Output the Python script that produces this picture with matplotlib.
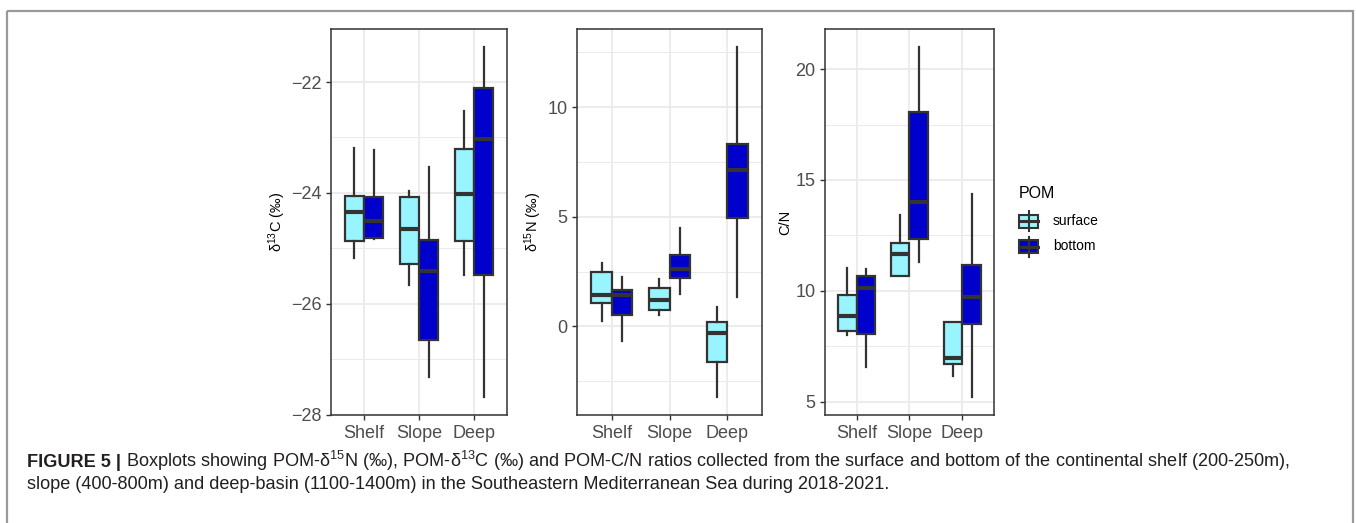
import numpy as np
import matplotlib
matplotlib.use("Agg")
import matplotlib.pyplot as plt
from matplotlib.patches import Rectangle

plt.rcParams['font.family'] = ['Liberation Sans', 'DejaVu Sans']
plt.rcParams['mathtext.fontset'] = 'custom'
plt.rcParams['mathtext.rm'] = 'Liberation Sans'
plt.rcParams['mathtext.it'] = 'Liberation Sans:italic'
plt.rcParams['mathtext.bf'] = 'Liberation Sans:bold'

# five-number summaries per site: [whisker low, Q1, median, Q3, whisker high]
sites = ['Shelf', 'Slope', 'Deep']
series = ['surface', 'bottom']

c13_surface = [[-25.17, -24.87, -24.35, -24.05, -23.19],
               [-25.66, -25.28, -24.65, -24.08, -23.96],
               [-25.49, -24.87, -24.02, -23.20, -22.53]]
c13_bottom = [[-24.84, -24.82, -24.51, -24.07, -23.22],
              [-27.33, -26.65, -25.41, -24.85, -23.53],
              [-27.69, -25.49, -23.03, -22.11, -21.36]]

n15_surface = [[0.24, 1.05, 1.44, 2.47, 2.89],
               [0.50, 0.73, 1.20, 1.73, 2.18],
               [-3.24, -1.61, -0.32, 0.18, 0.89]]
n15_bottom = [[-0.65, 0.50, 1.42, 1.68, 2.27],
              [1.47, 2.20, 2.62, 3.27, 4.47],
              [1.36, 4.92, 7.15, 8.33, 12.76]]

cn_surface = [[8.00, 8.21, 8.87, 9.79, 11.02],
              [10.69, 10.69, 11.67, 12.15, 13.44],
              [6.18, 6.72, 6.98, 8.58, 8.58]]
cn_bottom = [[6.56, 8.06, 10.12, 10.65, 10.99],
             [11.29, 12.34, 14.01, 18.05, 21.02],
             [5.19, 8.49, 9.73, 11.17, 14.35]]

c13_ticks = [-28, -26, -24, -22]
n15_ticks = [0, 5, 10]
cn_ticks = [5, 10, 15, 20]

colors = {'surface': '#98F5FF', 'bottom': '#0000CD'}
edge = '#333333'
txt = '#4d4d4d'

fig = plt.figure(figsize=(13.56, 5.23), dpi=100)


def stats(rows):
    return [dict(whislo=r[0], q1=r[1], med=r[2], q3=r[3], whishi=r[4], fliers=[]) for r in rows]


def panel(rect, surf, bott, ticks, ylabel, labelpad):
    ax = fig.add_axes(rect)
    pos = np.arange(1, len(sites) + 1)
    for rows, name, off in [(surf, 'surface', -0.175), (bott, 'bottom', 0.175)]:
        ax.bxp(stats(rows), positions=pos + off, widths=0.35, patch_artist=True,
               showcaps=False,
               boxprops=dict(facecolor=colors[name], edgecolor=edge, linewidth=1.6),
               whiskerprops=dict(color=edge, linewidth=1.6),
               medianprops=dict(color=edge, linewidth=3.0, solid_capstyle='butt'),
               manage_ticks=False, zorder=3)
    allv = np.array(surf + bott)
    lo, hi = allv.min(), allv.max()
    pad = 0.05 * (hi - lo)
    ax.set_ylim(lo - pad, hi + pad)
    ax.set_xlim(0.4, 3.6)
    ax.set_xticks(pos)
    ax.set_xticklabels(sites)
    ax.set_yticks(ticks)
    step = ticks[1] - ticks[0]
    minors = [t + step / 2 for t in [ticks[0] - step] + ticks]
    minors = [m for m in minors if lo - pad < m < hi + pad]
    ax.set_yticks(minors, minor=True)
    ax.tick_params(axis='both', which='major', colors=edge, labelcolor=txt,
                   labelsize=13, length=3.5, width=1)
    ax.tick_params(axis='y', which='minor', length=0)
    ax.grid(True, which='major', color='#ebebeb', linewidth=1.3, zorder=0)
    ax.grid(True, which='minor', axis='y', color='#ebebeb', linewidth=0.7, zorder=0)
    ax.set_axisbelow(True)
    for s in ax.spines.values():
        s.set_color(edge)
        s.set_linewidth(1.1)
    ax.set_ylabel(ylabel, fontsize=10.5, color='black', labelpad=labelpad)
    return ax


top = 1 - 29 / 523
bot = 1 - 415 / 523
H = top - bot
panel([331 / 1356, bot, 176 / 1356, H], c13_surface, c13_bottom, c13_ticks,
      r'$\mathrm{\delta}^{13}$C (‰)', 2)
panel([577 / 1356, bot, 185 / 1356, H], n15_surface, n15_bottom, n15_ticks,
      r'$\mathrm{\delta}^{15}$N (‰)', 2)
panel([825 / 1356, bot, 169 / 1356, H], cn_surface, cn_bottom, cn_ticks,
      'C/N', 2)

# legend drawn in its own small axes
lg = fig.add_axes([0, 0, 1, 1], facecolor='none')
lg.set_xlim(0, 1356)
lg.set_ylim(523, 0)
lg.axis('off')
lg.text(1019, 193, 'POM', fontsize=11.5, va='center', ha='left', color='black')
for name, yc in zip(series, [221, 246.5]):
    lg.plot([1028.5, 1028.5], [yc - 10, yc + 10], color=edge, lw=1.5)
    lg.add_patch(Rectangle((1019, yc - 6.5), 19, 13, facecolor=colors[name],
                           edgecolor=edge, lw=1.5))
    lg.plot([1019, 1038], [yc, yc], color=edge, lw=2.2)
    lg.text(1053, yc, name, fontsize=10, va='center', ha='left', color='black')

# outer frame
lg.add_patch(Rectangle((7, 11), 1345.5, 600, facecolor='none', edgecolor='#999999', lw=1.6))

# caption
cap_fs = 13.1
t1 = lg.text(27, 467, 'FIGURE 5 |', fontsize=cap_fs, fontweight='bold',
             color='#231f20', va='baseline', ha='left')
fig.canvas.draw()
bb = t1.get_window_extent()
lg.text(bb.x1 + 5, 467,
        'Boxplots showing POM-$\\mathrm{\\delta}^{15}$N (‰), POM-$\\mathrm{\\delta}^{13}$C (‰) and POM-C/N ratios '
        'collected from the surface and bottom of the continental shelf (200-250m),',
        fontsize=cap_fs, color='#231f20', va='baseline', ha='left')
lg.text(27, 489,
        'slope (400-800m) and deep-basin (1100-1400m) in the Southeastern Mediterranean Sea during 2018-2021.',
        fontsize=cap_fs, color='#231f20', va='baseline', ha='left')

fig.savefig('out.png', dpi=100)
